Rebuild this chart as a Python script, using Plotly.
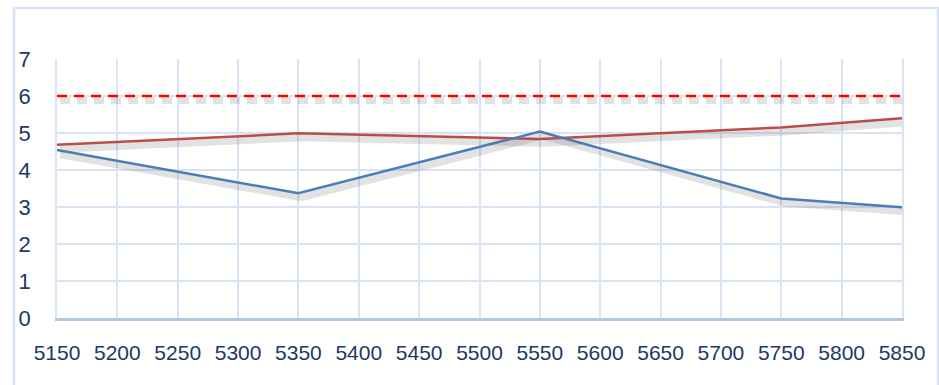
import plotly.graph_objects as go

# ---- data ----
x_points = [5150, 5350, 5550, 5750, 5850]
blue_values = [4.54, 3.37, 5.04, 3.23, 2.99]
red_values = [4.68, 4.99, 4.84, 5.15, 5.40]
limit_x = [5150, 5850]
limit_values = [6, 6]
x_ticks = [5150, 5200, 5250, 5300, 5350, 5400, 5450, 5500, 5550, 5600, 5650, 5700, 5750, 5800, 5850]
y_ticks = [0, 1, 2, 3, 4, 5, 6, 7]

BLUE = "#4A7EBB"
RED = "#BE4B48"
DASH_RED = "#FF0000"
GRID = "#D9E3F3"
AXIS = "#B4C7E7"
LABEL = "#203864"
SHADOW = "rgba(110,110,110,0.20)"

fig = go.Figure()

# shadows (same data on an overlaid, slightly shifted axis pair)
for xs, ys, dash in [(limit_x, limit_values, "10px,7px"),
                     (x_points, red_values, "solid"),
                     (x_points, blue_values, "solid")]:
    fig.add_trace(go.Scatter(x=xs, y=ys, mode="lines", xaxis="x2", yaxis="y2",
                             line=dict(color=SHADOW, width=7, dash=dash),
                             hoverinfo="skip", showlegend=False))

fig.add_trace(go.Scatter(x=limit_x, y=limit_values, mode="lines",
                         line=dict(color=DASH_RED, width=2.5, dash="10px,7px"), showlegend=False))
fig.add_trace(go.Scatter(x=x_points, y=red_values, mode="lines",
                         line=dict(color=RED, width=2.5), showlegend=False))
fig.add_trace(go.Scatter(x=x_points, y=blue_values, mode="lines",
                         line=dict(color=BLUE, width=2.5), showlegend=False))

xfont = dict(family="Liberation Sans, Arial, sans-serif", size=21, color=LABEL)
yfont = dict(family="Liberation Sans, Arial, sans-serif", size=22, color=LABEL)

fig.update_layout(
    width=939, height=385,
    margin=dict(l=57, r=37, t=59, b=67),
    paper_bgcolor="white", plot_bgcolor="white",
    xaxis=dict(range=[5150, 5850], tickvals=x_ticks, ticktext=[str(v) for v in x_ticks],
               showgrid=True, gridcolor=GRID, gridwidth=1.5,
               showline=True, linecolor=AXIS, linewidth=2.5,
               zeroline=False, ticks="", tickfont=xfont, ticklabelstandoff=14),
    yaxis=dict(range=[0, 7], tickvals=y_ticks, showgrid=True, gridcolor=GRID, gridwidth=1.5,
               showline=True, linecolor=GRID, linewidth=1.5, mirror=True,
               zeroline=False, ticks="", tickfont=yfont, ticklabelstandoff=20),
    xaxis2=dict(range=[5150 - 2.5, 5850 - 2.5], overlaying="x", visible=False),
    yaxis2=dict(range=[0.12, 7.12], overlaying="y", visible=False),
    shapes=[dict(type="rect", xref="paper", yref="paper",
                 x0=-0.0509, x1=1.0426, y0=-0.4, y1=1.197,
                 line=dict(color="#D6E2F4", width=2.5), layer="below")],
)

fig.write_html("out.html", config={"displayModeBar": False},
               post_script="document.body.style.margin='0px';")
